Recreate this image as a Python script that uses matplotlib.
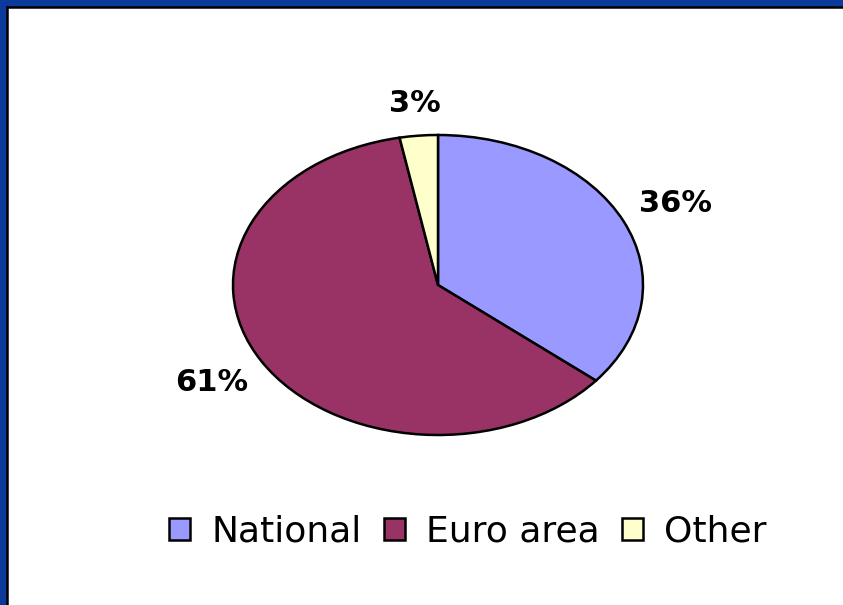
import matplotlib
matplotlib.use("Agg")
import matplotlib.pyplot as plt
from matplotlib.lines import Line2D
from matplotlib.patches import Rectangle

categories = ["National", "Euro area", "Other"]
values = [36, 61, 3]
colors = ["#9999FF", "#993366", "#FFFFCC"]

W, H = 843, 605
fig = plt.figure(figsize=(W / 100, H / 100), dpi=100, facecolor="#0B3A9C")

# white panel with dark shadow edge
fig.patches.append(Rectangle((7 / W, 0), 1, 1 - 7 / H, transform=fig.transFigure,
                             facecolor="white", edgecolor="none", zorder=-3))
fig.lines.append(Line2D([7 / W, 7 / W], [0, 1 - 7 / H], transform=fig.transFigure,
                        color="black", linewidth=1.8, zorder=-2))
fig.lines.append(Line2D([7 / W, 1], [1 - 7 / H, 1 - 7 / H], transform=fig.transFigure,
                        color="black", linewidth=1.8, zorder=-2))

ax = fig.add_axes([233 / W, (H - 435) / H, 410 / W, 300 / H])
ax.set_zorder(1)
wedges, texts, autotexts = ax.pie(
    values, colors=colors, startangle=90, counterclock=False,
    autopct=lambda p: f"{p:.0f}%", pctdistance=1.28,
    wedgeprops=dict(edgecolor="black", linewidth=1.8),
    textprops=dict(fontsize=22, fontweight="bold", family="DejaVu Sans", color="black"),
)
for w in wedges:
    w.set_clip_on(False)
for t in autotexts:
    t.set_clip_on(False)
# small slice label sits a bit closer to the pie
x3, y3 = autotexts[2].get_position()
autotexts[2].set_position((x3 * 0.95, y3 * 0.95))
ax.set_aspect("auto")
ax.set_xlim(-1, 1)
ax.set_ylim(-1, 1)
ax.axis("off")

leg = fig.legend(wedges, categories, loc="center", bbox_to_anchor=(468 / W, 1 - 532 / H),
                 ncol=3, frameon=False, prop=dict(family="DejaVu Sans", size=26),
                 handlelength=0.58, handleheight=0.58, handletextpad=0.6, columnspacing=0.6)
leg.set_zorder(2)

fig.savefig("out.png", dpi=100, facecolor=fig.get_facecolor())
